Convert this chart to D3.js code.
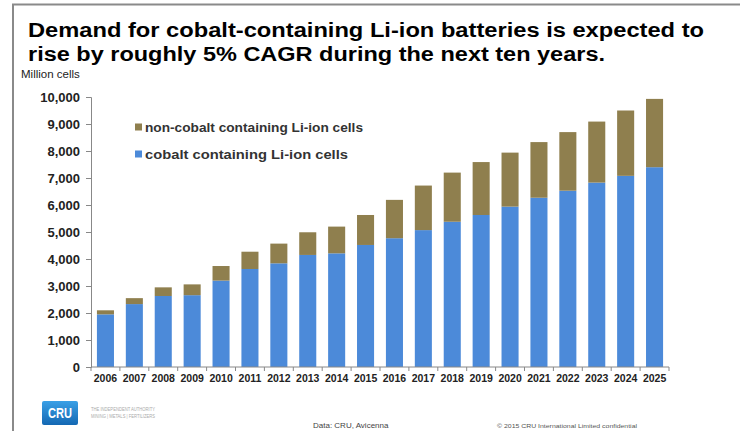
<!DOCTYPE html>
<html><head><meta charset="utf-8">
<script src="https://cdn.jsdelivr.net/npm/d3@7"></script>
<style>body{margin:0;background:#fff}svg{display:block}text{font-family:"Liberation Sans",Arial,sans-serif}</style>
</head><body>
<svg id="c" width="740" height="431"></svg>
<script>
const years = ["2006","2007","2008","2009","2010","2011","2012","2013","2014","2015","2016","2017","2018","2019","2020","2021","2022","2023","2024","2025"];
const cobalt = [1950,2330,2630,2660,3200,3630,3840,4150,4210,4520,4770,5070,5380,5630,5940,6270,6530,6830,7080,7400];
const nonCobalt = [150,220,320,400,540,640,730,840,990,1110,1420,1650,1820,1960,2000,2060,2170,2260,2420,2530];
const yTicks = [0,1000,2000,3000,4000,5000,6000,7000,8000,9000,10000];
const seriesNames = ["non-cobalt containing Li-ion cells","cobalt containing Li-ion cells"];
const colors = {cobalt:"#4c8ad9", nonCobalt:"#8f7f4e"};

const svg = d3.select("#c");
// slide frame
svg.append("line").attr("x1",12).attr("x2",740).attr("y1",4.5).attr("y2",4.5).attr("stroke","#8a8a8a").attr("stroke-width",2);
svg.append("line").attr("x1",13).attr("x2",13).attr("y1",4).attr("y2",431).attr("stroke","#8a8a8a").attr("stroke-width",2);

// title
svg.append("text").attr("x",28).attr("y",37).attr("font-weight","bold").attr("font-size",19.5).attr("fill","#000")
  .attr("textLength",676).attr("lengthAdjust","spacingAndGlyphs")
  .text("Demand for cobalt-containing Li-ion batteries is expected to");
svg.append("text").attr("x",28).attr("y",61).attr("font-weight","bold").attr("font-size",19.5).attr("fill","#000")
  .attr("textLength",577).attr("lengthAdjust","spacingAndGlyphs")
  .text("rise by roughly 5% CAGR during the next ten years.");
svg.append("text").attr("x",21).attr("y",78).attr("font-size",11.5).attr("fill","#222").text("Million cells");

const x = d3.scaleBand().domain(years).range([91,669]).paddingInner(0.41).paddingOuter(0.205);
const y = d3.scaleLinear().domain([0,10000]).range([367,97]);

const data = years.map((yr,i)=>({year:yr, cobalt:cobalt[i], nonCobalt:nonCobalt[i]}));
const stack = d3.stack().keys(["cobalt","nonCobalt"])(data);

svg.append("g").selectAll("g").data(stack).join("g").attr("fill",d=>colors[d.key])
  .selectAll("rect").data(d=>d).join("rect")
  .attr("x",d=>x(d.data.year)).attr("width",x.bandwidth())
  .attr("y",d=>y(d[1])).attr("height",d=>y(d[0])-y(d[1]));

// y axis
const ya = svg.append("g").attr("transform","translate(91,0)")
  .call(d3.axisLeft(y).tickValues(yTicks).tickFormat(d3.format(",")).tickSize(5).tickPadding(6));
ya.select(".domain").attr("stroke","#888");
ya.selectAll(".tick line").attr("stroke","#888");
ya.selectAll("text").attr("font-family","Liberation Sans, Arial").attr("font-size",13).attr("font-weight","bold").attr("fill","#222");

// x axis
const xa = svg.append("g").attr("transform","translate(0,367)")
  .call(d3.axisBottom(x).tickSize(0).tickPadding(8));
xa.select(".domain").attr("stroke","#888").attr("d","M91,0H669");
xa.selectAll("text").attr("font-family","Liberation Sans, Arial").attr("font-size",10.5).attr("font-weight","bold").attr("fill","#222");
const sep = d3.range(years.length+1).map(i=> i===years.length ? 669 : x(years[i]) - x.step()*x.paddingInner()/2);
svg.append("g").selectAll("line").data(sep).join("line")
  .attr("x1",d=>d).attr("x2",d=>d).attr("y1",367).attr("y2",371).attr("stroke","#888");

// legend
const leg = [{name:seriesNames[0],color:colors.nonCobalt,y:127,w:218},{name:seriesNames[1],color:colors.cobalt,y:154,w:203}];
const lg = svg.append("g");
lg.selectAll("rect").data(leg).join("rect").attr("x",135).attr("y",d=>d.y-3.5).attr("width",7).attr("height",7).attr("fill",d=>d.color);
lg.selectAll("text").data(leg).join("text").attr("x",145).attr("y",d=>d.y+4.5).attr("font-size",13).attr("font-weight","bold").attr("fill","#333")
  .attr("textLength",d=>d.w).attr("lengthAdjust","spacingAndGlyphs").text(d=>d.name);

// footer
const defs = svg.append("defs");
const gr = defs.append("linearGradient").attr("id","lg").attr("x1",0).attr("y1",0).attr("x2",0).attr("y2",1);
gr.append("stop").attr("offset","0").attr("stop-color","#3aa0e6");
gr.append("stop").attr("offset","1").attr("stop-color","#1468b3");
svg.append("rect").attr("x",42).attr("y",401).attr("width",36).attr("height",24).attr("rx",2).attr("fill","url(#lg)");
svg.append("text").attr("x",60).attr("y",418).attr("text-anchor","middle").attr("font-size",14).attr("font-weight","bold").attr("fill","#fff").attr("textLength",24).attr("lengthAdjust","spacingAndGlyphs").text("CRU");
svg.append("text").attr("x",91).attr("y",411).attr("font-size",5.5).attr("fill","#aaa").attr("textLength",64).attr("lengthAdjust","spacingAndGlyphs").text("THE INDEPENDENT AUTHORITY");
svg.append("text").attr("x",91).attr("y",418).attr("font-size",4.5).attr("fill","#aaa").attr("textLength",64).attr("lengthAdjust","spacingAndGlyphs").text("MINING | METALS | FERTILIZERS");
svg.append("text").attr("x",313).attr("y",428).attr("font-size",8).attr("fill","#444").text("Data: CRU, Avicenna");
svg.append("text").attr("x",497).attr("y",428).attr("font-size",5.5).attr("fill","#555").attr("textLength",140).attr("lengthAdjust","spacingAndGlyphs").text("© 2015 CRU International Limited confidential");
</script>
</body></html>
